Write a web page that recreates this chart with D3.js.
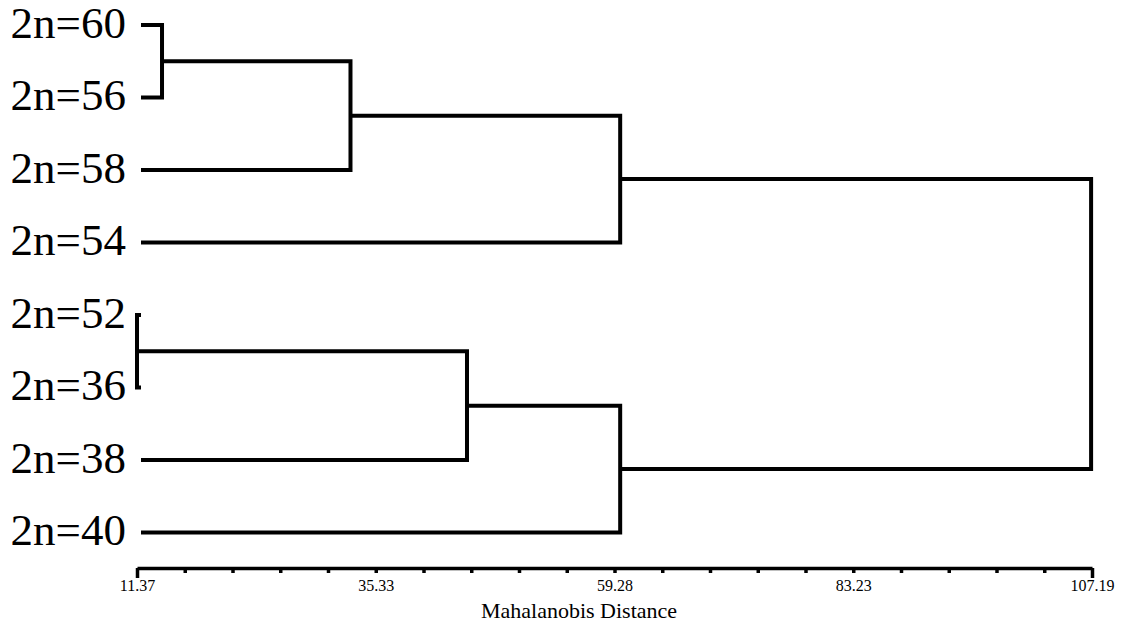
<!DOCTYPE html>
<html>
<head>
<meta charset="utf-8">
<script src="https://cdn.jsdelivr.net/npm/d3@7"></script>
<style>
  html, body { margin: 0; padding: 0; background: #fff; }
  svg { display: block; }
</style>
</head>
<body>
<svg id="chart" width="1135" height="628"></svg>
<script>
// ---- data ----
const leafLabels = ["2n=60", "2n=56", "2n=58", "2n=54", "2n=52", "2n=36", "2n=38", "2n=40"];
// linkage: cluster ids 8.. are formed in order
const mergeLeft     = [0, 8, 9, 4, 11, 12, 10];
const mergeRight    = [1, 2, 3, 5, 6, 7, 13];
const mergeDistance = [13.88, 32.79, 59.85, 11.37, 44.48, 59.85, 107.1];
const axisMin = 11.37, axisMax = 107.19;
const tickLabels = ["11.37", "35.33", "59.28", "83.23", "107.19"];
const axisTitle = "Mahalanobis Distance";

// ---- layout ----
const svg = d3.select("#chart");
const x = d3.scaleLinear().domain([axisMin, axisMax]).range([137, 1092]);
const y = d3.scalePoint().domain(leafLabels).range([25, 532.5]);
const serif = "'Liberation Serif', 'Times New Roman', serif";

// node positions
const nodeX = [], nodeY = [];
leafLabels.forEach((l, i) => { nodeX[i] = x(axisMin) + 4; nodeY[i] = y(l); });
mergeDistance.forEach((d, k) => {
  const id = leafLabels.length + k;
  const a = mergeLeft[k], b = mergeRight[k];
  nodeX[id] = x(d);
  nodeY[id] = (nodeY[a] + nodeY[b]) / 2;
});

// links (elbow connectors)
svg.append("g").selectAll("path.link")
  .data(mergeDistance.map((d, k) => k))
  .join("path")
  .attr("class", "link")
  .attr("fill", "none")
  .attr("stroke", "#000")
  .attr("stroke-width", 4)
  .attr("stroke-linejoin", "miter")
  .attr("d", k => {
    const id = leafLabels.length + k;
    const a = mergeLeft[k], b = mergeRight[k];
    const xm = nodeX[id];
    return `M${nodeX[a]},${nodeY[a]}H${xm}V${nodeY[b]}H${nodeX[b]}`;
  });

// leaf labels
svg.selectAll("text.leaf")
  .data(leafLabels)
  .join("text")
  .attr("class", "leaf")
  .attr("x", 126)
  .attr("y", d => y(d) + 12.5)
  .attr("text-anchor", "end")
  .attr("font-family", serif)
  .attr("font-size", 45)
  .attr("fill", "#000")
  .text(d => d);

// axis
const nIntervals = 20;
const step = (axisMax - axisMin) / nIntervals;
const tickVals = d3.range(nIntervals + 1).map(i => axisMin + i * step);
const axisY = 568;
const axis = d3.axisBottom(x)
  .tickValues(tickVals)
  .tickSize(5)
  .tickSizeOuter(0)
  .tickFormat((d, i) => (i % 5 === 0 ? tickLabels[i / 5] : ""));
const ag = svg.append("g").attr("transform", `translate(0,${axisY})`).call(axis);
ag.select(".domain").attr("stroke", "#000").attr("stroke-width", 3.5);
ag.selectAll(".tick line").attr("stroke", "#000").attr("stroke-width", 3.5)
  .attr("y2", (d, i) => (i === 0 || i === nIntervals ? 10 : 5));
ag.selectAll(".tick text")
  .attr("font-family", serif)
  .attr("font-size", 16)
  .attr("fill", "#000")
  .attr("y", 12);

svg.append("text")
  .attr("x", 579)
  .attr("y", 618)
  .attr("text-anchor", "middle")
  .attr("font-family", serif)
  .attr("font-size", 22)
  .attr("fill", "#000")
  .text(axisTitle);
</script>
</body>
</html>
